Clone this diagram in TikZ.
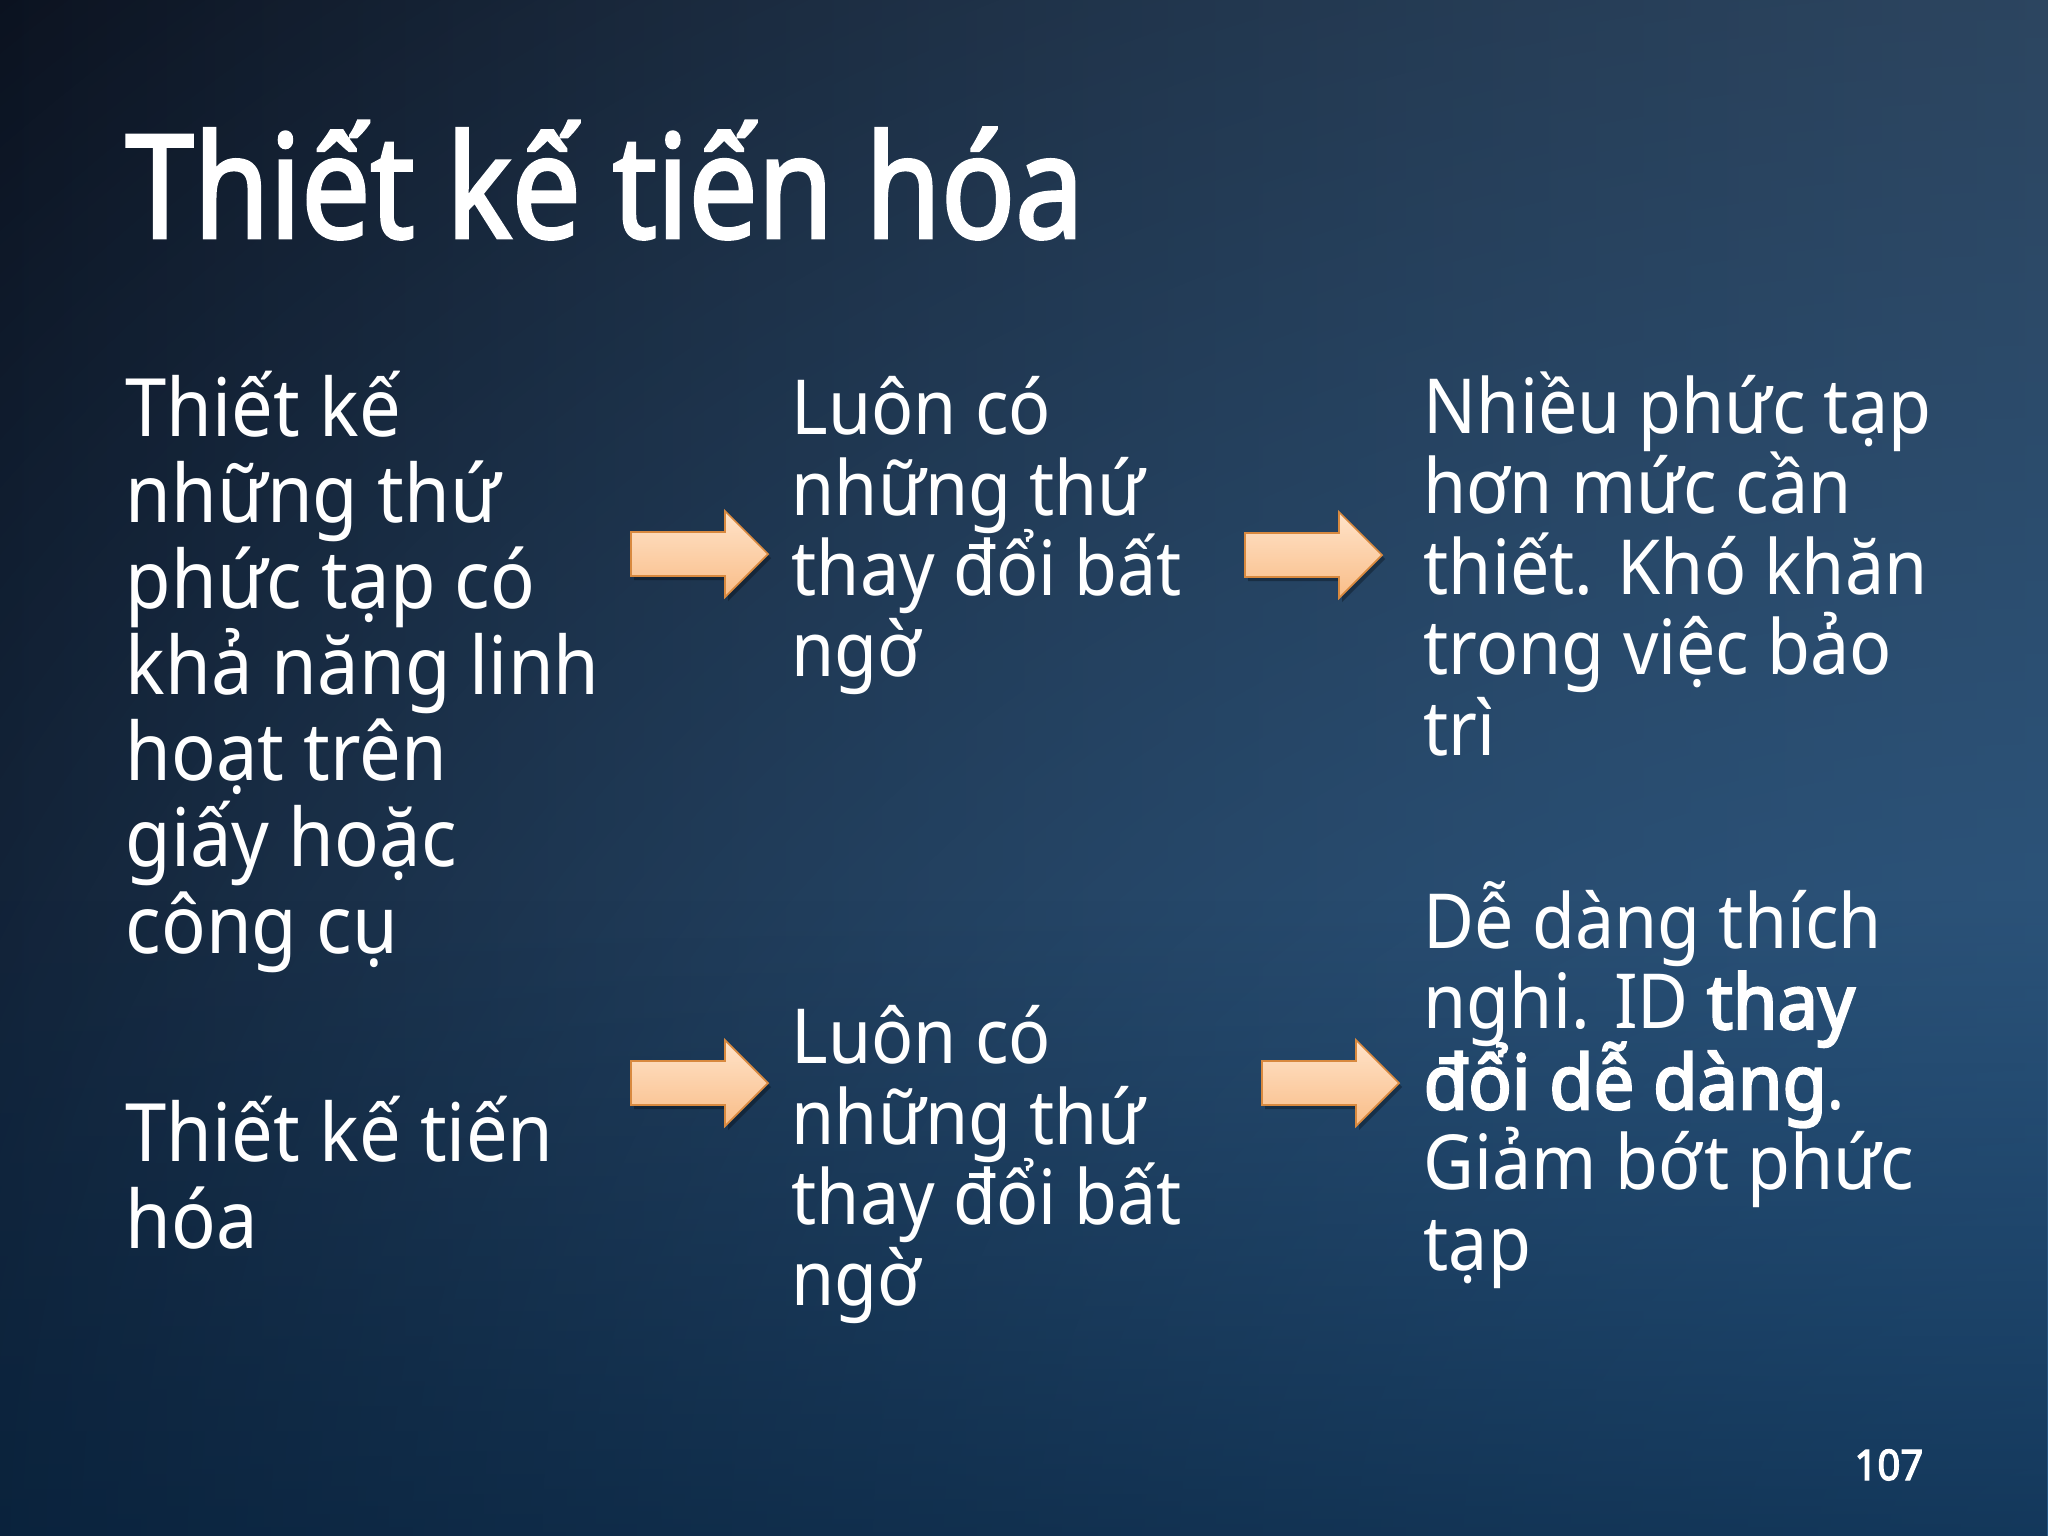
\documentclass[tikz,border=0pt]{standalone}
\usepackage{fontspec}
\setmainfont{Noto Sans}[FakeStretch=0.92]
\newfontfamily\heavyfont{Noto Sans}[FakeStretch=0.95, FakeBold=3]
\newfontfamily\titlefont{Noto Sans}[FakeStretch=0.85, FakeBold=2]
\usetikzlibrary{fadings}

\definecolor{bgleft}{HTML}{0A0F1B}
\definecolor{bgright}{HTML}{2D3A4B}
\definecolor{bgglow}{HTML}{2B5C8A}
\definecolor{bgbottom}{HTML}{04203C}
\definecolor{arrowtop}{HTML}{FFE3C9}
\definecolor{arrowbot}{HTML}{F9BD88}
\definecolor{arrowline}{HTML}{D8893F}

\tikzfading[name=glowfade, inner color=transparent!0, outer color=transparent!100]

\tikzset{
  slidetext/.style={text=white, align=left, anchor=base west, inner sep=0pt},
  bigtext/.style={slidetext, font={\fontsize{22.9}{24.5}\selectfont\lineskiplimit=-50pt\relax}},
  smalltext/.style={slidetext, font={\fontsize{21.6}{22.85}\selectfont\lineskiplimit=-50pt\relax}},
  arrowbody/.style={draw=arrowline, line width=0.5pt, top color=arrowtop, bottom color=arrowbot},
  barrow/.pic={
    \fill[black, opacity=0.3, shift={(3,-4)}] (0,-22) -- (94,-22) -- (94,-43) -- (137,0) -- (94,43) -- (94,22) -- (0,22) -- cycle;
    \path[arrowbody] (0,-22) -- (94,-22) -- (94,-43) -- (137,0) -- (94,43) -- (94,22) -- (0,22) -- cycle;
  }
}

\begin{document}
\begin{tikzpicture}[x=0.01cm, y=0.01cm]
  \useasboundingbox (0,-1536) rectangle (2048,0);
  \begin{scope}
    \clip (0,-1536) rectangle (2048,0);
    \shade[left color=bgleft, right color=bgright] (0,-1536) rectangle (2048,0);
    \fill[bgglow, path fading=glowfade] (2048,-1536) ellipse [x radius=3000, y radius=2300];
    \fill[bgbottom, path fading=north, opacity=0.6] (0,-1536) rectangle (2048,-900);
  \end{scope}

  % multi-line nodes sit on the baseline of their last line
  \node[slidetext, font=\titlefont\fontsize{41}{44}\selectfont] (title) at (125,-238) {Thiết kế tiến hóa};

  \node[bigtext] (designA) at (125,-953) {Thiết kế\\những thứ\\phức tạp có\\khả năng linh\\hoạt trên\\giấy hoặc\\công cụ};
  \node[bigtext] (designB) at (125,-1248) {Thiết kế tiến\\hóa};

  \node[smalltext] (changeA) at (791,-676) {Luôn có\\những thứ\\thay đổi bất\\ngờ};
  \node[smalltext] (changeB) at (791,-1305) {Luôn có\\những thứ\\thay đổi bất\\ngờ};

  \node[smalltext] (resultA) at (1423,-755) {Nhiều phức tạp\\hơn mức cần\\thiết. Khó khăn\\trong việc bảo\\trì};
  \node[smalltext] (resultB) at (1423,-1270) {Dễ dàng thích\\nghi. ID {\heavyfont thay}\\{\heavyfont đổi dễ dàng}.\\Giảm bớt phức\\tạp};

  \pic at (631,-554) {barrow};
  \pic at (1245,-555) {barrow};
  \pic at (631,-1083) {barrow};
  \pic at (1262,-1083) {barrow};

  \node[slidetext, anchor=base east, font=\heavyfont\fontsize{12}{14}\selectfont] (pagenum) at (1924,-1480) {107};
\end{tikzpicture}
\end{document}
